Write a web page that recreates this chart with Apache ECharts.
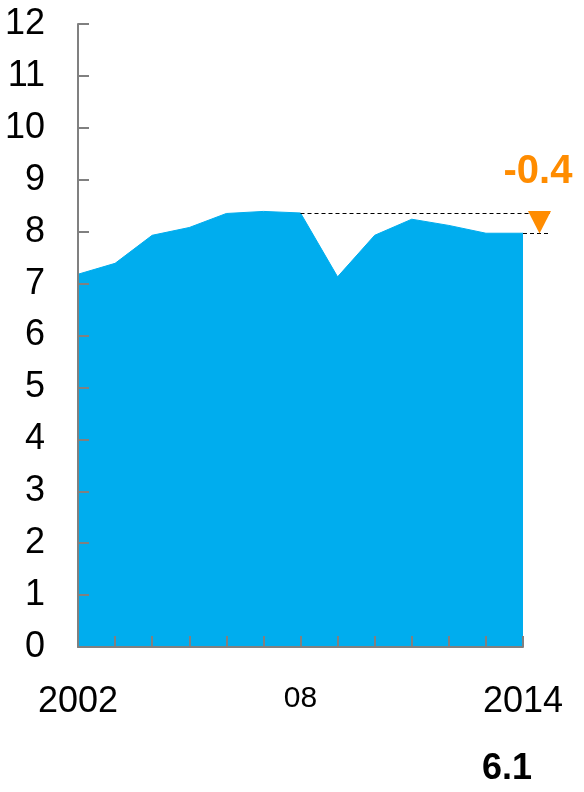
<!DOCTYPE html>
<html>
<head>
<meta charset="utf-8">
<script src="https://cdn.jsdelivr.net/npm/echarts@6/dist/echarts.min.js"></script>
<style>
  html, body { margin: 0; padding: 0; background: #fff; }
  #chart { width: 584px; height: 792px; }
</style>
</head>
<body>
<div id="chart"></div>
<script>
// ---- data ----
const years = ['2002','2003','2004','2005','2006','2007','2008','2009','2010','2011','2012','2013','2014'];
const values = [7.18, 7.39, 7.93, 8.08, 8.35, 8.39, 8.36, 7.13, 7.93, 8.24, 8.12, 7.97, 7.97];
const xTickLabels = ['2002','','','','','','08','','','','','','2014'];
const yTicks = [0,1,2,3,4,5,6,7,8,9,10,11,12];
const refYear = '2008';
const lastYear = '2014';
const footnote = '6.1';

const FONT = '"Liberation Sans", Arial, sans-serif';
const BLUE = '#00ADEE';
const ORANGE = '#FF8C00';
const GRAY = '#808080';

const chart = echarts.init(document.getElementById('chart'), null, { renderer: 'canvas' });

chart.setOption({
  animation: false,
  backgroundColor: '#ffffff',
  grid: { left: 78, right: 61, top: 24, bottom: 145, containLabel: false },
  xAxis: {
    type: 'category',
    data: years,
    boundaryGap: false,
    z: 5,
    axisLine: { show: true, lineStyle: { color: GRAY, width: 2 } },
    axisTick: { show: true, inside: true, length: 11, interval: 0, lineStyle: { color: GRAY, width: 2 } },
    axisLabel: {
      interval: 0,
      margin: 37,
      fontFamily: FONT,
      color: '#000',
      formatter: function (val, idx) {
        const t = xTickLabels[idx];
        if (!t) return '';
        return t.length === 2 ? '{s|' + t + '}' : '{b|' + t + '}';
      },
      rich: {
        b: { fontSize: 36, fontFamily: FONT, color: '#000' },
        s: { fontSize: 30, fontFamily: FONT, color: '#000' }
      }
    },
    splitLine: { show: false }
  },
  yAxis: {
    type: 'value',
    min: yTicks[0],
    max: yTicks[yTicks.length - 1],
    interval: 1,
    z: 5,
    axisLine: { show: true, lineStyle: { color: GRAY, width: 2 } },
    axisTick: { show: true, inside: true, length: 11, lineStyle: { color: GRAY, width: 2 } },
    axisLabel: { margin: 33, fontSize: 36, fontFamily: FONT, color: '#000' },
    splitLine: { show: false }
  },
  series: [{
    type: 'line',
    data: values,
    symbol: 'none',
    lineStyle: { color: BLUE, width: 1 },
    areaStyle: { color: BLUE, opacity: 1 },
    z: 1
  }]
});

// ---- annotations positioned from the library's scales ----
const refIdx = years.indexOf(refYear);
const lastIdx = years.indexOf(lastYear);
const pRef = chart.convertToPixel({ gridIndex: 0 }, [refYear, values[refIdx]]);
const pLast = chart.convertToPixel({ gridIndex: 0 }, [lastYear, values[lastIdx]]);
const change = values[lastIdx] - values[refIdx];
const changeText = (change < 0 ? '-' : '+') + Math.abs(change).toFixed(1);

const yU = Math.round(pRef[1]) + 0.5;
const yL = Math.round(pLast[1]) + 0.5;
const xEnd = pLast[0] + 28;
const triCx = pLast[0] + 16.5;
const dash = { stroke: '#000', lineWidth: 1, lineDash: [4, 3] };

chart.setOption({
  graphic: [
    { type: 'line', z: 10, shape: { x1: pRef[0], y1: yU, x2: xEnd, y2: yU }, style: dash },
    { type: 'line', z: 10, shape: { x1: pLast[0], y1: yL, x2: xEnd, y2: yL }, style: dash },
    { type: 'polygon', z: 11, shape: { points: [[triCx - 11.5, yU - 2.5], [triCx + 11.5, yU - 2.5], [triCx, yL]] }, style: { fill: ORANGE } },
    { type: 'text', z: 11, x: pLast[0] + 15, y: pRef[1] - 41,
      style: { text: changeText, fill: ORANGE, font: 'bold 40px ' + FONT, align: 'center', verticalAlign: 'middle' } },
    { type: 'text', z: 11, x: pLast[0] - 16, y: 769,
      style: { text: footnote, fill: '#000', font: 'bold 36px ' + FONT, align: 'center', verticalAlign: 'middle' } }
  ]
});
</script>
</body>
</html>
